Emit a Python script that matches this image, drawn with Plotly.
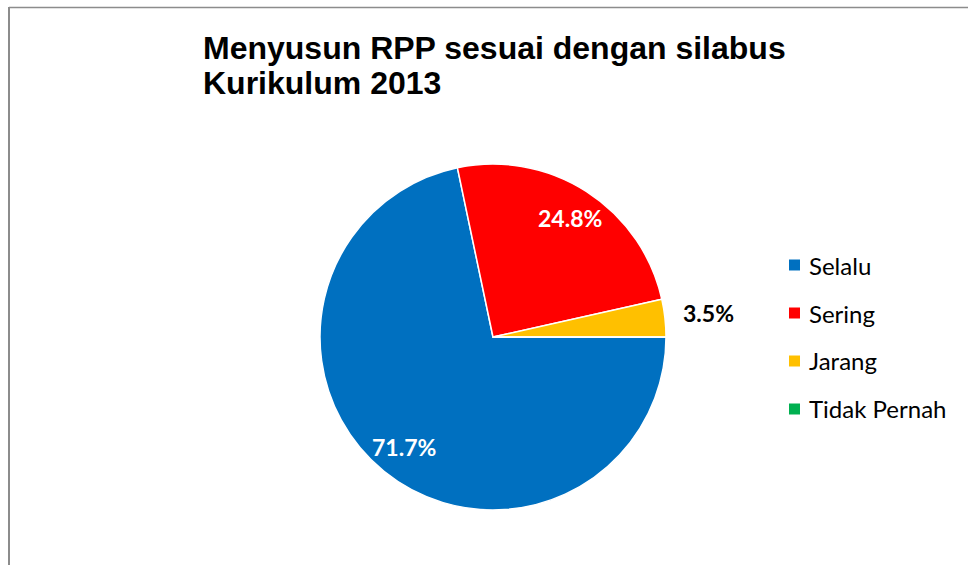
import math
import plotly.graph_objects as go

categories = ["Selalu", "Sering", "Jarang", "Tidak Pernah"]
values = [71.7, 24.8, 3.5, 0.0]
colors = ["#0070C0", "#FF0000", "#FFC000", "#00B050"]
title_lines = ["Menyusun RPP sesuai dengan silabus", "Kurikulum 2013"]

W, H = 968, 565

def px(x):
    return x / W

def py(y):
    return 1 - y / H

# pie geometry (pixels)
CX, CY, R = 493, 337, 173

fig = go.Figure()
fig.add_trace(go.Pie(
    labels=categories,
    values=values,
    textinfo="none",
    sort=False,
    direction="clockwise",
    rotation=90,
    marker=dict(colors=colors, line=dict(color="white", width=1.5)),
    domain=dict(x=[px(CX - R), px(CX + R)], y=[py(CY + R), py(CY - R)]),
    showlegend=False,
    hoverinfo="label+percent",
))

shapes = []
annotations = []

# data labels, placed along each slice bisector (Excel style)
total = sum(values)
cum = 0.0
for v in values:
    if v <= 0:
        continue
    theta = math.radians(360 * (cum + v / 2) / total)  # clockwise from 3 o'clock
    cum += v
    inside = v / total >= 0.05
    d = 0.82 * R if inside else R + 44
    x = CX + d * math.cos(theta)
    y = CY + d * math.sin(theta)
    annotations.append(dict(
        text=f"{v:.1f}%", xref="paper", yref="paper", x=px(x), y=py(y),
        xanchor="center", yanchor="middle", showarrow=False,
        font=dict(family="Lato", size=23, weight="bold",
                  color="white" if inside else "black")))

# Manual legend (entries from category list)
for i, (cat, col) in enumerate(zip(categories, colors)):
    yc = 265 + i * 48
    shapes.append(dict(type="rect", xref="paper", yref="paper",
                       x0=px(789), x1=px(800), y0=py(yc - 5.5), y1=py(yc + 5.5),
                       fillcolor=col, line=dict(width=0)))
    annotations.append(dict(text=cat, xref="paper", yref="paper",
                            x=px(807), y=py(yc), xanchor="left", yanchor="middle",
                            showarrow=False,
                            font=dict(family="Lato", size=24, color="black")))

# title (two lines)
for i, line in enumerate(title_lines):
    annotations.append(dict(text=line, xref="paper", yref="paper",
                            x=px(201), y=py(47.5 + 36 * i), xanchor="left", yanchor="middle",
                            showarrow=False,
                            font=dict(family="Liberation Sans", size=32, weight="bold",
                                      color="black")))

# chart border (left and top visible)
shapes.append(dict(type="line", xref="paper", yref="paper",
                   x0=px(9), x1=px(9), y0=py(7), y1=py(H + 5),
                   line=dict(color="#8c8c8c", width=2)))
shapes.append(dict(type="line", xref="paper", yref="paper",
                   x0=px(9), x1=px(W + 5), y0=py(7.5), y1=py(7.5),
                   line=dict(color="#8c8c8c", width=1.5)))

fig.update_layout(
    width=W, height=H,
    margin=dict(l=0, r=0, t=0, b=0),
    paper_bgcolor="white",
    plot_bgcolor="white",
    shapes=shapes,
    annotations=annotations,
)

fig.write_html("out.html", config={"displayModeBar": False},
               post_script="document.body.style.margin='0px';")
